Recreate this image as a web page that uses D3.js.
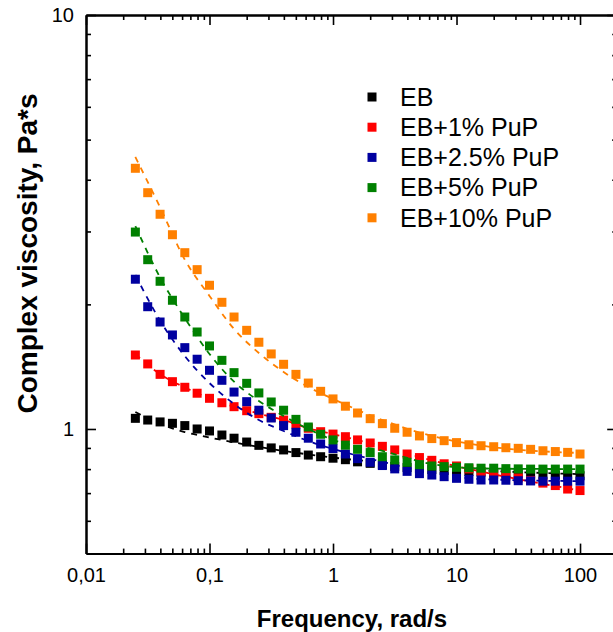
<!DOCTYPE html>
<html><head><meta charset="utf-8">
<script src="https://cdn.jsdelivr.net/npm/d3@7/dist/d3.min.js"></script>
<style>body{margin:0;background:#fff;} svg{display:block;font-family:Arial,"Liberation Sans",sans-serif;}</style>
</head><body><svg id="c" width="613" height="632"></svg>
<script>
// ---------- data ----------
const freq = [0.0251,0.0316,0.0398,0.0501,0.0631,0.0794,0.1,0.126,0.158,0.2,
  0.251,0.316,0.398,0.501,0.631,0.794,1,1.26,1.58,2,
  2.51,3.16,3.98,5.01,6.31,7.94,10,12.6,15.8,20,
  25.1,31.6,39.8,50.1,63.1,79.4,100];
const seriesNames = ["EB","EB+1% PuP","EB+2.5% PuP","EB+5% PuP","EB+10% PuP"];
const etaEB = [1.061,1.051,1.040,1.032,1.019,1.000,0.989,0.967,0.950,0.930,
  0.913,0.900,0.890,0.877,0.865,0.857,0.850,0.843,0.833,0.826,
  0.819,0.812,0.807,0.803,0.798,0.794,0.791,0.789,0.787,0.785,
  0.782,0.780,0.778,0.776,0.774,0.774,0.771];
const etaEB1 = [1.509,1.436,1.355,1.301,1.261,1.220,1.186,1.157,1.132,1.107,
  1.089,1.067,1.051,1.027,1.004,0.985,0.972,0.958,0.941,0.925,
  0.908,0.890,0.870,0.853,0.840,0.824,0.814,0.801,0.789,0.778,
  0.770,0.762,0.751,0.740,0.730,0.716,0.710];
const etaEB25 = [2.300,1.974,1.813,1.687,1.572,1.474,1.386,1.311,1.228,1.164,
  1.110,1.063,1.019,0.982,0.950,0.920,0.897,0.870,0.848,0.831,
  0.816,0.801,0.790,0.780,0.774,0.767,0.760,0.756,0.753,0.753,
  0.752,0.750,0.749,0.748,0.748,0.748,0.748];
const etaEB5 = [2.990,2.564,2.274,2.046,1.864,1.715,1.587,1.465,1.368,1.289,
  1.222,1.162,1.110,1.055,1.011,0.971,0.941,0.914,0.893,0.877,
  0.857,0.842,0.831,0.820,0.814,0.811,0.808,0.806,0.804,0.804,
  0.802,0.801,0.800,0.800,0.800,0.800,0.800];
const etaEB10 = [4.263,3.722,3.301,2.946,2.666,2.426,2.224,2.023,1.864,1.731,
  1.620,1.518,1.433,1.355,1.291,1.233,1.182,1.135,1.093,1.059,
  1.030,1.004,0.982,0.962,0.948,0.937,0.927,0.916,0.911,0.906,
  0.901,0.898,0.893,0.886,0.882,0.878,0.870];
// fitted (dashed) curves
const fitFreq = [0.0251,0.04,0.063,0.1,0.158,0.251,0.398,0.631,1,2.51,6.31,15.8,100];
const fitEB   = [1.099,1.028,0.983,0.954,0.928,0.905,0.885,0.868,0.853,0.830,0.807,0.794,0.778];
const fitEB1  = [1.515,1.355,1.260,1.186,1.132,1.089,1.051,1.004,0.972,0.908,0.840,0.789,0.710];
const fitEB25 = [2.355,1.823,1.501,1.291,1.149,1.051,0.989,0.935,0.895,0.833,0.782,0.757,0.748];
const fitEB5  = [3.092,2.316,1.854,1.518,1.301,1.169,1.075,1.000,0.941,0.885,0.823,0.803,0.800];
const fitEB10 = [4.540,3.420,2.567,2.096,1.744,1.526,1.373,1.263,1.182,1.051,0.962,0.912,0.875];
const colors = ["#000000","#ff0000","#0000a0","#008000","#ff8000"];
const xMajor = [0.01,0.1,1,10,100];
const xTickLabels = ["0,01","0,1","1","10","100"];
const yMajor = [1,10];
const yTickLabels = ["1","10"];
const xTitle = "Frequency, rad/s";
const yTitle = "Complex viscosity, Pa*s";

// ---------- drawing ----------
const svg = d3.select("#c");
const L = 86, T = 15, B = 553.6, R = 617.2;
const x = d3.scaleLog().domain([0.01, 200]).range([L, R]);
const y = d3.scaleLog().domain([0.5, 10]).range([B, T]);

const xMinor = [];
[0.01,0.1,1,10,100].forEach(d => { for (let k = 2; k <= 9; k++) { const v = d*k; if (v <= 200) xMinor.push(v); } });
const yMinor = [0.6,0.7,0.8,0.9,2,3,4,5,6,7,8,9];

function styleAxis(g){
  g.select(".domain").attr("stroke","#000").attr("stroke-width",2);
  g.selectAll(".tick line").attr("stroke","#000").attr("stroke-width",1.6);
  g.selectAll(".tick text").attr("fill","#000").attr("font-size",20);
}
// bottom
svg.append("g").attr("transform",`translate(0,${B})`)
  .call(d3.axisBottom(x).tickValues(xMinor).tickSizeInner(-5).tickSizeOuter(0).tickFormat(""))
  .call(styleAxis);
svg.append("g").attr("transform",`translate(0,${B})`)
  .call(d3.axisBottom(x).tickValues(xMajor).tickSizeInner(-10).tickSizeOuter(0).tickPadding(14)
    .tickFormat((d,i)=>xTickLabels[i]))
  .call(styleAxis);
// top
svg.append("g").attr("transform",`translate(0,${T})`)
  .call(d3.axisTop(x).tickValues(xMinor).tickSizeInner(-5).tickSizeOuter(0).tickFormat(""))
  .call(styleAxis);
svg.append("g").attr("transform",`translate(0,${T})`)
  .call(d3.axisTop(x).tickValues(xMajor).tickSizeInner(-10).tickSizeOuter(0).tickFormat(""))
  .call(styleAxis);
// left
svg.append("g").attr("transform",`translate(${L},0)`)
  .call(d3.axisLeft(y).tickValues(yMinor).tickSizeInner(-5).tickSizeOuter(0).tickFormat(""))
  .call(styleAxis);
svg.append("g").attr("transform",`translate(${L},0)`)
  .call(d3.axisLeft(y).tickValues(yMajor).tickSizeInner(-10).tickSizeOuter(0).tickPadding(12)
    .tickFormat((d,i)=>yTickLabels[i]))
  .call(styleAxis);
// right
svg.append("g").attr("transform",`translate(${R},0)`)
  .call(d3.axisRight(y).tickValues(yMinor).tickSizeInner(-5).tickSizeOuter(0).tickFormat(""))
  .call(styleAxis);
svg.append("g").attr("transform",`translate(${R},0)`)
  .call(d3.axisRight(y).tickValues(yMajor).tickSizeInner(-10).tickSizeOuter(0).tickFormat(""))
  .call(styleAxis);

// series
const data = [etaEB, etaEB1, etaEB25, etaEB5, etaEB10];
const fits = [fitEB, fitEB1, fitEB25, fitEB5, fitEB10];
const line = d3.line().x(d=>x(d[0])).y(d=>y(d[1])).curve(d3.curveMonotoneX);
const plot = svg.append("g");
const S = 9;
data.forEach((vals, si) => {
  plot.append("g").selectAll("rect").data(vals.map((v,i)=>[freq[i],v])).join("rect")
    .attr("x", d=>x(d[0])-S/2).attr("y", d=>y(d[1])-S/2)
    .attr("width", S).attr("height", S).attr("fill", colors[si]);
  plot.append("path").datum(fits[si].map((v,i)=>[fitFreq[i],v]))
    .attr("d", line).attr("fill","none").attr("stroke", colors[si])
    .attr("stroke-width", 1.8).attr("stroke-dasharray","6,6");
});

// legend
const lg = svg.append("g");
seriesNames.forEach((n, i) => {
  const cy = 97 + i*30.2;
  lg.append("rect").attr("x", 372-4.5).attr("y", cy-4.5).attr("width", 9).attr("height", 9).attr("fill", colors[i]);
  lg.append("text").attr("x", 400).attr("y", cy).attr("dy","0.35em")
    .attr("font-size", 25).attr("fill","#000").text(n);
});

// titles
svg.append("text").attr("x", 352).attr("y", 627).attr("text-anchor","middle")
  .attr("font-size", 24).attr("font-weight","bold").text(xTitle);
svg.append("text").attr("transform","translate(37,253.5) rotate(-90)").attr("text-anchor","middle")
  .attr("font-size", 28).attr("font-weight","bold").text(yTitle);
</script></body></html>
